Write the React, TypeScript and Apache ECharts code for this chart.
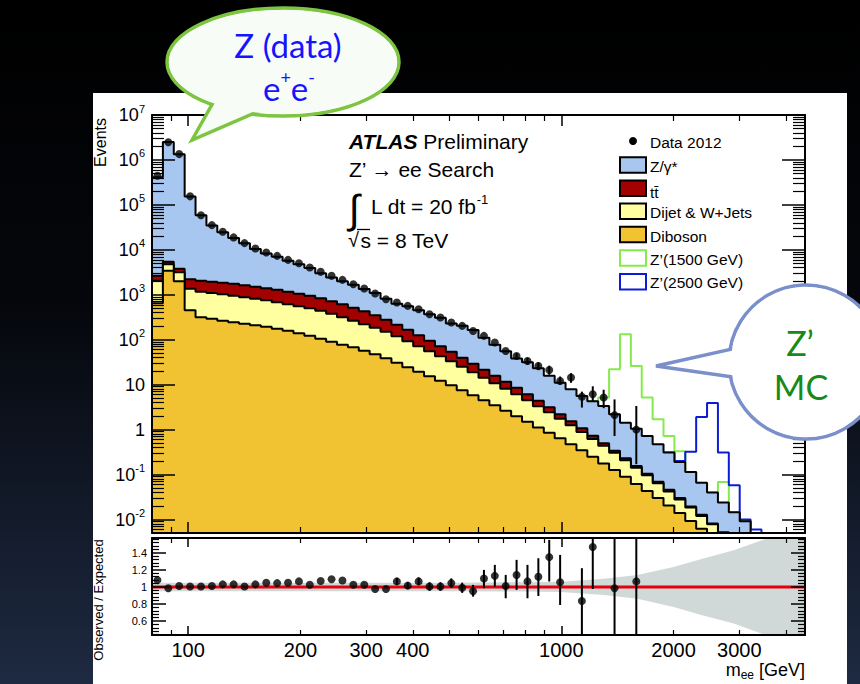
import { useEffect, useRef } from 'react';
import * as echarts from 'echarts';

const FONT = '"Liberation Sans", Arial, Helvetica, sans-serif';
const CALLOUT_FONT = 'Lato, "Open Sans", sans-serif';

// m_ee binning: 60 bins, uniform in log(m)
const MASS_MIN = 80;
const MASS_MAX = 4500;
const N_BINS = 60;

// Observed events per bin (null = empty bin)
const dataEvents: (number | null)[] = [
  4.45e5, 2.47e6, 1.35e6, 1.55e5, 5.9e4, 3.55e4, 2.52e4, 1.89e4, 1.41e4, 1.07e4,
  8750, 7350, 5980, 5050, 4060, 3240, 2640, 2150, 1720, 1380,
  1070, 798, 675, 567, 478, 370, 312, 241, 203, 157,
  122, 86.7, 56.2, 43.5, 33.7, 26.1, 21.2, 12.1, 14.4, 5.4,
  6.1, 5.2, 2.1, null, 1.0,
];

// Poisson error bars on the sparsely filled bins: [bin, low, high]
const dataErrorBars: [number, number, number][] = [
  [33, 37, 50], [34, 28, 40], [35, 21, 31.5], [36, 16.6, 26.5], [37, 10.1, 15.2],
  [38, 11, 18], [39, 3.1, 7.0], [40, 4.2, 9.2], [41, 3.0, 7.7], [42, 0.72, 4.7],
  [44, 0.17, 3.35],
];

// Cumulative background stack heights per bin (top of each stacked component)
const stackZgamma = [
  4.1e5, 2.5e6, 1.34e6, 1.54e5, 5.9e4, 3.5e4, 2.45e4, 1.83e4, 1.4e4, 1.04e4,
  8300, 7050, 5700, 4750, 3960, 3030, 2420, 2000, 1680, 1350,
  1100, 820, 635, 558, 450, 368, 310, 231, 205, 165,
  111, 77, 55.5, 38, 31.7, 23.3, 15.7, 11.1, 7.9, 5.6,
  4.3, 3.36, 2.19, 1.43, 1.05, 0.72, 0.47, 0.31, 0.19, 0.114,
  0.066, 0.04, 0.024, 0.0146, 0.0092, 0.004,
];
const stackTtbar = [
  2640, 5460, 3810, 2220, 2060, 1960, 1860, 1770, 1640, 1510,
  1400, 1300, 1170, 1060, 955, 840, 720, 618, 516, 431,
  352, 279, 216, 167, 126, 95, 71.6, 54.1, 39.7, 29.2,
  21.5, 15.8, 11.6, 8.5, 6.1, 4.4, 3.14, 2.19, 1.53, 1.07,
  0.73, 0.495, 0.337, 0.23, 0.156, 0.104, 0.069, 0.046, 0.03, 0.0196,
  0.0127, 0.0082, 0.0052, 0.003,
];
const stackDijet = [
  2040, 4810, 3190, 1370, 1170, 1090, 1030, 955, 885, 819,
  759, 684, 618, 557, 504, 443, 379, 317, 265, 221,
  185, 151, 120, 92.7, 71.6, 55.5, 43.0, 33.2, 25.1, 18.9,
  14.3, 10.7, 8.1, 6.1, 4.5, 3.3, 2.43, 1.74, 1.25, 0.89,
  0.62, 0.435, 0.304, 0.207, 0.141, 0.096, 0.064, 0.042, 0.028, 0.0186,
  0.012, 0.0078, 0.0049,
];
const stackDiboson = [
  650, 3440, 2010, 454, 317, 294, 265, 245, 227, 210,
  195, 176, 158, 140, 123, 105, 90, 77, 68, 57,
  47.5, 38.7, 30.8, 24.4, 19.4, 15.4, 12.2, 9.7, 7.5, 5.8,
  4.5, 3.5, 2.62, 1.98, 1.49, 1.12, 0.85, 0.64, 0.47, 0.346,
  0.248, 0.177, 0.127, 0.089, 0.062, 0.043, 0.03, 0.0206, 0.014, 0.0093,
  0.0062, 0.0036,
];

// Z' signal on top of the background, from the first bin where it departs
const zp1500FirstBin = 40;
const zp1500 = [4.3, 5.2, 22, 132, 26, 5.2, 1.7, 0.72, 0.33, 0.114, 0.066, 0.04, 0.068, 0.0146, 0.0092, 0.004];
const zp2500FirstBin = 47;
const zp2500 = [0.31, 0.2, 0.32, 1.9, 3.9, 0.31, 0.058, 0.01, 0.006, 0.002];

// Observed / Expected per bin (null = no point in the panel)
const ratioValues: (number | null)[] = [
  1.08, 0.985, 1.01, 1.005, 1.005, 1.01, 1.03, 1.03, 1.005, 1.03,
  1.05, 1.045, 1.05, 1.065, 1.025, 1.07, 1.09, 1.075, 1.025, 1.025,
  0.975, 0.975, 1.065, 1.015, 1.065, 1.005, 1.005, 1.045, 0.99, 0.95,
  1.1, 1.13, 1.01, 1.14, 1.065, 1.12, 1.35, 1.055, null, 0.835,
  1.47, null, 0.985, null, 1.065,
];
const ratioErrorBars: [number, number, number][] = [
  [22, 1.025, 1.105], [23, 0.975, 1.055], [24, 1.02, 1.11], [25, 0.955, 1.055],
  [26, 0.955, 1.055], [27, 0.99, 1.1], [28, 0.93, 1.05], [29, 0.886, 1.024],
  [30, 0.985, 1.2], [31, 1.004, 1.259], [32, 0.867, 1.141], [33, 0.965, 1.318],
  [34, 0.867, 1.259], [35, 0.894, 1.337], [36, 1.064, 1.553], [37, 0.788, 1.376],
  [39, 0.44, 1.22], [40, 0.976, 1.57], [42, 0.44, 1.57], [44, 0.44, 1.57],
];

// Systematic uncertainty band around 1
const bandMass = [80, 200, 500, 800, 1000, 1300, 1600, 2000, 2400, 2900, 3450, 4000, 4500];
const bandHalfWidth = [0.05, 0.05, 0.05, 0.055, 0.06, 0.095, 0.14, 0.235, 0.335, 0.43, 0.55, 0.63, 0.7];

// Axis ticks and labels
const massTickLabels = [100, 200, 300, 400, 1000, 2000, 3000];
const massMajorTicks = [100, 1000];
const massMinorTicks = [90, 200, 300, 400, 500, 600, 700, 800, 900, 2000, 3000, 4000];
const eventDecades = [-2, -1, 0, 1, 2, 3, 4, 5, 6, 7];
const ratioTickLabels = [0.6, 0.8, 1, 1.2, 1.4];

const EVENTS_LOG_MIN = -2.3;
const EVENTS_LOG_MAX = 7;
const RATIO_MIN = 0.435;
const RATIO_MAX = 1.575;

const COLORS = {
  zgamma: '#a7c7f1',
  ttbar: '#a30000',
  dijet: '#ffffa0',
  diboson: '#f1c232',
  zp1500: '#85ea4c',
  zp2500: '#0c1bd6',
  band: '#d0d9d7',
  unity: '#e4000c',
};

const lg = Math.log10;
const lgMin = lg(MASS_MIN);
const lgMax = lg(MASS_MAX);
const binWidth = (lgMax - lgMin) / N_BINS;
const edges = Array.from({ length: N_BINS + 1 }, (_, i) => lgMin + i * binWidth);
const centers = edges.slice(0, -1).map((e) => e + binWidth / 2);

const eventMinorTicks: number[] = [];
for (let d = -3; d <= 6; d++) {
  for (let k = 2; k <= 9; k++) {
    const v = d + lg(k);
    if (v > EVENTS_LOG_MIN && v < EVENTS_LOG_MAX) eventMinorTicks.push(v);
  }
}
const ratioMinorTicks: number[] = [];
for (let j = 11; j <= 39; j++) if (j % 5 !== 0) ratioMinorTicks.push(j * 0.04);

// histogram outline as points for a step line (horizontal first, then vertical)
function stepPoints(values: number[], firstBin = 0) {
  const pts: number[][] = values.map((v, k) => [edges[firstBin + k], lg(v)]);
  const last = values.length - 1;
  pts.push([edges[firstBin + last + 1], lg(values[last])]);
  return pts;
}

function histSeries(name: string, values: number[], fill: string | null, z: number, stroke = '#000', firstBin = 0) {
  return {
    type: 'line',
    name,
    xAxisIndex: 0,
    yAxisIndex: 0,
    data: stepPoints(values, firstBin),
    step: 'end',
    symbol: 'none',
    silent: true,
    z,
    lineStyle: { color: stroke, width: 2 },
    areaStyle: fill ? { color: fill, opacity: 1, origin: 'start' } : undefined,
  };
}

function errorBarSeries(xAxisIndex: number, yAxisIndex: number, data: number[][]) {
  return {
    type: 'custom',
    xAxisIndex,
    yAxisIndex,
    z: 10,
    silent: true,
    encode: { x: 0, y: [1, 2] },
    data,
    renderItem: (_p: any, api: any) => {
      const a = api.coord([api.value(0), api.value(1)]);
      const b = api.coord([api.value(0), api.value(2)]);
      return {
        type: 'line',
        shape: { x1: a[0], y1: a[1], x2: b[0], y2: b[1] },
        style: { stroke: '#000', lineWidth: 2 },
      };
    },
  };
}

const tickStyle = (major: boolean) => ({ color: '#000', width: major ? 1.5 : 1.2 });

function massAxis(gridIndex: number, position: 'bottom' | 'top', major: boolean, withLabels: boolean) {
  const len = gridIndex === 0 ? (major ? 11 : 6) : major ? 9 : 5;
  return {
    type: 'value',
    gridIndex,
    position,
    min: lgMin,
    max: lgMax,
    z: 20,
    silent: true,
    axisLine: { show: major, onZero: false, lineStyle: { color: '#000', width: 2 } },
    axisTick: {
      show: true,
      inside: true,
      length: len,
      customValues: (major ? massMajorTicks : massMinorTicks).map(lg),
      lineStyle: tickStyle(major),
    },
    axisLabel: withLabels
      ? {
          show: true,
          customValues: massTickLabels.map(lg),
          formatter: (v: number) => String(Math.round(Math.pow(10, v))),
          fontFamily: FONT,
          fontSize: 20,
          color: '#000',
          margin: 5,
        }
      : { show: false },
    splitLine: { show: false },
  };
}

function eventsAxis(position: 'left' | 'right', major: boolean, withLabels: boolean) {
  return {
    type: 'value',
    gridIndex: 0,
    position,
    min: EVENTS_LOG_MIN,
    max: EVENTS_LOG_MAX,
    z: 20,
    silent: true,
    axisLine: { show: major, onZero: false, lineStyle: { color: '#000', width: 2 } },
    axisTick: {
      show: true,
      inside: true,
      length: major ? 23 : 12,
      customValues: major ? eventDecades : eventMinorTicks,
      lineStyle: tickStyle(major),
    },
    axisLabel: withLabels
      ? {
          show: true,
          customValues: eventDecades,
          margin: 7,
          formatter: (v: number) => {
            const n = Math.round(v);
            if (n === 0) return '{b|1}';
            if (n === 1) return '{b|10}';
            return `{b|10}{s|${n}}`;
          },
          rich: {
            b: { fontFamily: FONT, fontSize: 18, lineHeight: 24, color: '#000' },
            s: { fontFamily: FONT, fontSize: 11, lineHeight: 12, verticalAlign: 'top', color: '#000' },
          },
        }
      : { show: false },
    splitLine: { show: false },
  };
}

function ratioAxis(position: 'left' | 'right', major: boolean, withLabels: boolean) {
  return {
    type: 'value',
    gridIndex: 1,
    position,
    min: RATIO_MIN,
    max: RATIO_MAX,
    z: 20,
    silent: true,
    axisLine: { show: major, onZero: false, lineStyle: { color: '#000', width: 2 } },
    axisTick: {
      show: true,
      inside: true,
      length: major ? 14 : 7,
      customValues: major ? ratioTickLabels : ratioMinorTicks,
      lineStyle: tickStyle(major),
    },
    axisLabel: withLabels
      ? {
          show: true,
          customValues: ratioTickLabels,
          margin: 5,
          fontFamily: FONT,
          fontSize: 11,
          color: '#000',
          formatter: (v: number) => {
            const r = Math.round(v * 10) / 10;
            return r === 1 ? '1' : r.toFixed(1);
          },
        }
      : { show: false },
    splitLine: { show: false },
  };
}

function legendGraphics() {
  const items = [
    { label: 'Z/γ*', fill: COLORS.zgamma, stroke: '#000', cy: 165, dy: 1.5 },
    { label: 'tt\u0304', fill: COLORS.ttbar, stroke: '#000', cy: 188.3, dy: 4 },
    { label: 'Dijet & W+Jets', fill: COLORS.dijet, stroke: '#000', cy: 211.2, dy: 1.5 },
    { label: 'Diboson', fill: COLORS.diboson, stroke: '#000', cy: 234.5, dy: 1.5 },
    { label: 'Z’(1500 GeV)', fill: '#fff', stroke: COLORS.zp1500, cy: 258, dy: 1 },
    { label: 'Z’(2500 GeV)', fill: '#fff', stroke: COLORS.zp2500, cy: 281.7, dy: 1 },
  ];
  const out: any[] = [
    { type: 'circle', z: 50, shape: { cx: 633, cy: 141, r: 4 }, style: { fill: '#000' } },
    {
      type: 'text', z: 50, x: 650, y: 142,
      style: { text: 'Data 2012', fontFamily: FONT, fontSize: 15.5, fill: '#000', verticalAlign: 'middle' },
    },
  ];
  items.forEach((it) => {
    out.push({
      type: 'rect', z: 50,
      shape: { x: 620, y: it.cy - 7.75, width: 26, height: 15.5 },
      style: { fill: it.fill, stroke: it.stroke, lineWidth: 2 },
    });
    out.push({
      type: 'text', z: 50, x: 650, y: it.cy + it.dy,
      style: { text: it.label, fontFamily: FONT, fontSize: 15.5, fill: '#000', verticalAlign: 'middle' },
    });
  });
  return out;
}

function buildOption() {
  const dataPoints = dataEvents
    .map((v, i) => (v == null ? null : [centers[i], lg(v)]))
    .filter((p) => p !== null);
  const ratioPoints = ratioValues
    .map((v, i) => (v == null ? null : [centers[i], v]))
    .filter((p) => p !== null);

  const background = {
    type: 'linear', x: 0, y: 0, x2: 0, y2: 1,
    colorStops: [
      { offset: 0, color: '#000000' },
      { offset: 0.45, color: '#05070c' },
      { offset: 1, color: '#1e2a42' },
    ],
  };

  const calloutText = (x: number, y: number, text: string, color: string, size: number, rich?: any) => ({
    type: 'text', z: 103, x, y,
    style: {
      text, rich, fontFamily: CALLOUT_FONT, fontSize: size, fill: color,
      align: 'center', verticalAlign: 'middle',
    },
  });

  const graphic: any[] = [
    { type: 'rect', z: -100, silent: true, shape: { x: 0, y: 0, width: 860, height: 684 }, style: { fill: background } },
    { type: 'rect', z: -99, silent: true, shape: { x: 93, y: 93, width: 754, height: 591 }, style: { fill: '#ffffff' } },

    // axis titles
    {
      type: 'text', z: 50, x: 100, y: 118, rotation: Math.PI / 2,
      style: { text: 'Events', fontFamily: FONT, fontSize: 16, fill: '#000', align: 'right', verticalAlign: 'middle' },
    },
    {
      type: 'text', z: 50, x: 98, y: 600, rotation: Math.PI / 2,
      style: { text: 'Observed / Expected', fontFamily: FONT, fontSize: 13, fill: '#000', align: 'center', verticalAlign: 'middle' },
    },
    {
      type: 'text', z: 50, x: 805, y: 670,
      style: {
        text: '{m|m}{sub|ee}{m| [GeV]}',
        align: 'right', verticalAlign: 'middle',
        rich: {
          m: { fontFamily: FONT, fontSize: 18, lineHeight: 22, fill: '#000' },
          sub: { fontFamily: FONT, fontSize: 12, lineHeight: 12, verticalAlign: 'bottom', fill: '#000' },
        },
      },
    },

    // plot annotations
    {
      type: 'text', z: 50, x: 349, y: 141,
      style: {
        text: '{a|ATLAS}{p| Preliminary}', verticalAlign: 'middle',
        rich: {
          a: { fontFamily: FONT, fontSize: 21, fontWeight: 'bold', fontStyle: 'italic', fill: '#000' },
          p: { fontFamily: FONT, fontSize: 21, fill: '#000' },
        },
      },
    },
    {
      type: 'text', z: 50, x: 349, y: 169,
      style: { text: 'Z’ → ee Search', fontFamily: FONT, fontSize: 21, fill: '#000', verticalAlign: 'middle' },
    },
    {
      type: 'text', z: 50, x: 354, y: 209,
      style: { text: '∫', fontFamily: FONT, fontSize: 40, fill: '#000', align: 'center', verticalAlign: 'middle' },
    },
    {
      type: 'text', z: 50, x: 371, y: 206,
      style: {
        text: '{t|L dt = 20 fb}{s|-1}', verticalAlign: 'middle',
        rich: {
          t: { fontFamily: FONT, fontSize: 21, lineHeight: 26, fill: '#000' },
          s: { fontFamily: FONT, fontSize: 13, lineHeight: 13, verticalAlign: 'top', fill: '#000' },
        },
      },
    },
    {
      type: 'text', z: 50, x: 348, y: 240,
      style: { text: '√', fontFamily: FONT, fontSize: 20, fill: '#000', verticalAlign: 'middle' },
    },
    { type: 'line', z: 50, shape: { x1: 357, y1: 229.5, x2: 370, y2: 229.5 }, style: { stroke: '#000', lineWidth: 1.3 } },
    {
      type: 'text', z: 50, x: 360.5, y: 240.5,
      style: { text: 's = 8 TeV', fontFamily: FONT, fontSize: 21, fill: '#000', verticalAlign: 'middle' },
    },

    ...legendGraphics(),

    // callout: Z peak
    { type: 'ellipse', z: 100, shape: { cx: 283, cy: 62, rx: 116, ry: 54 }, style: { fill: '#f8fcf6', stroke: '#7dc540', lineWidth: 3.5 } },
    {
      type: 'polygon', z: 101,
      shape: { points: [[216.6, 96.3], [192, 140], [264.5, 108.8]] },
      style: { fill: '#f8fcf6', stroke: '#7dc540', lineWidth: 3.5, lineJoin: 'miter' },
    },
    { type: 'ellipse', z: 102, shape: { cx: 283, cy: 62, rx: 114, ry: 52 }, style: { fill: '#f8fcf6' } },
    calloutText(288, 45, 'Z (data)', '#1414ff', 33),
    calloutText(289, 88, '{e|e}{s|+}{e|e}{s|-}', '#1414ff', 33, {
      e: { fontFamily: CALLOUT_FONT, fontSize: 33, lineHeight: 40, fill: '#1414ff' },
      s: { fontFamily: CALLOUT_FONT, fontSize: 18, lineHeight: 18, verticalAlign: 'top', fill: '#1414ff' },
    }),

    // callout: Z' signal templates
    { type: 'circle', z: 100, shape: { cx: 806, cy: 362, r: 77 }, style: { fill: '#ffffff', stroke: '#7b90cb', lineWidth: 3.5 } },
    {
      type: 'polygon', z: 101,
      shape: { points: [[747.2, 345.6], [656, 366], [748.4, 379.2]] },
      style: { fill: '#ffffff', stroke: '#7b90cb', lineWidth: 3.5, lineJoin: 'miter' },
    },
    { type: 'circle', z: 102, shape: { cx: 806, cy: 362, r: 75 }, style: { fill: '#ffffff' } },
    calloutText(800, 342, 'Z’', '#178a17', 34),
    calloutText(801, 386, 'MC', '#178a17', 34),
  ];

  return {
    animation: false,
    backgroundColor: 'transparent',
    grid: [
      { left: 152, top: 115, width: 653, height: 418, show: false },
      { left: 152, top: 538, width: 653, height: 97, show: false },
    ],
    xAxis: [
      massAxis(0, 'bottom', true, false),
      massAxis(0, 'bottom', false, false),
      massAxis(0, 'top', true, false),
      massAxis(0, 'top', false, false),
      massAxis(1, 'bottom', true, true),
      massAxis(1, 'bottom', false, false),
      massAxis(1, 'top', true, false),
      massAxis(1, 'top', false, false),
    ],
    yAxis: [
      eventsAxis('left', true, true),
      eventsAxis('left', false, false),
      eventsAxis('right', true, false),
      eventsAxis('right', false, false),
      ratioAxis('left', true, true),
      ratioAxis('left', false, false),
      ratioAxis('right', true, false),
      ratioAxis('right', false, false),
    ],
    graphic,
    series: [
      // Z' templates sit under the stack outline wherever they coincide with it
      histSeries("Z'(1500 GeV)", zp1500, null, 3, COLORS.zp1500, zp1500FirstBin),
      histSeries("Z'(2500 GeV)", zp2500, null, 3, COLORS.zp2500, zp2500FirstBin),
      histSeries('Z/γ*', stackZgamma, COLORS.zgamma, 4),
      histSeries('tt̄', stackTtbar, COLORS.ttbar, 5),
      histSeries('Dijet & W+Jets', stackDijet, COLORS.dijet, 6),
      histSeries('Diboson', stackDiboson, COLORS.diboson, 7),
      errorBarSeries(
        0, 0,
        dataErrorBars.map(([bin, lo, hi]) => [centers[bin], lg(lo), lg(hi)]),
      ),
      {
        type: 'scatter', name: 'Data 2012', xAxisIndex: 0, yAxisIndex: 0, z: 12, silent: true,
        symbol: 'circle', symbolSize: 8, itemStyle: { color: '#000' }, data: dataPoints,
      },

      // ratio panel: uncertainty band = grey area under the upper edge, blanked below the lower edge
      {
        type: 'line', xAxisIndex: 4, yAxisIndex: 4, symbol: 'none', silent: true, z: 2,
        lineStyle: { width: 0, opacity: 0 },
        areaStyle: { color: COLORS.band, opacity: 1, origin: 'start' },
        data: bandMass.map((m, i) => [lg(m), 1 + bandHalfWidth[i]]),
      },
      {
        type: 'line', xAxisIndex: 4, yAxisIndex: 4, symbol: 'none', silent: true, z: 2,
        lineStyle: { width: 0, opacity: 0 },
        areaStyle: { color: '#ffffff', opacity: 1, origin: 'start' },
        data: bandMass.map((m, i) => [lg(m), 1 - bandHalfWidth[i]]),
      },
      {
        type: 'line', xAxisIndex: 4, yAxisIndex: 4, symbol: 'none', silent: true, z: 3,
        lineStyle: { color: COLORS.unity, width: 3 },
        data: [[lgMin, 1], [lgMax, 1]],
      },
      errorBarSeries(4, 4, ratioErrorBars.map(([bin, lo, hi]) => [centers[bin], lo, hi])),
      {
        type: 'scatter', xAxisIndex: 4, yAxisIndex: 4, z: 12, silent: true,
        symbol: 'circle', symbolSize: 8, itemStyle: { color: '#000' }, data: ratioPoints,
      },
    ],
  };
}

export default function App() {
  const ref = useRef<HTMLDivElement>(null);
  useEffect(() => {
    document.body.style.margin = '0';
    if (!ref.current) return;
    const chart = echarts.init(ref.current, undefined, { renderer: 'svg' });
    chart.setOption(buildOption() as any);
    return () => chart.dispose();
  }, []);
  return <div ref={ref} style={{ width: 860, height: 684, background: '#000' }} />;
}
